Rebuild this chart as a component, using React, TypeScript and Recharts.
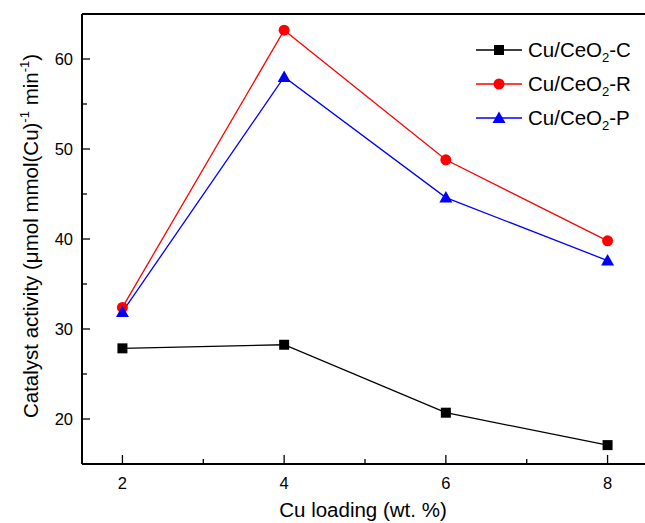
import React from 'react';
import { LineChart, Line, XAxis, YAxis, Legend, ReferenceLine } from 'recharts';

const loadings = [2, 4, 6, 8];
const activityC = [27.85, 28.25, 20.7, 17.1];
const activityR = [32.4, 63.2, 48.8, 39.8];
const activityP = [31.9, 58.0, 44.6, 37.6];
const seriesNames = ['Cu/CeO2-C', 'Cu/CeO2-R', 'Cu/CeO2-P'];
const xTicks = [2, 3, 4, 5, 6, 7, 8];
const yTicks = [20, 25, 30, 35, 40, 45, 50, 55, 60];

const data = loadings.map((x, i) => ({ x, c: activityC[i], r: activityR[i], p: activityP[i] }));

const FONT = '"Liberation Sans", Arial, sans-serif';
// tickSize + tickMargin, the gap recharts leaves between axis and tick position
const TICK_OFFSET = 8;

const XTick = (props: any) => {
  const { x, payload } = props;
  const y = props.y - TICK_OFFSET;
  const major = payload.value % 2 === 0;
  return (
    <g>
      <line x1={x} x2={x} y1={y} y2={y - (major ? 9 : 5)} stroke="#000" strokeWidth={1.3} />
      {major && (
        <text x={x} y={y + 25} textAnchor="middle" fontSize={16.5} fontFamily={FONT} fill="#000">
          {payload.value}
        </text>
      )}
    </g>
  );
};

const YTick = (props: any) => {
  const { y, payload } = props;
  const x = props.x + TICK_OFFSET;
  const major = payload.value % 10 === 0;
  return (
    <g>
      <line x1={x} x2={x + (major ? 8 : 5)} y1={y} y2={y} stroke="#000" strokeWidth={1.3} />
      {major && (
        <text x={x - 9} y={y + 6} textAnchor="end" fontSize={16.5} fontFamily={FONT} fill="#000">
          {payload.value}
        </text>
      )}
    </g>
  );
};

const SquareDot = (props: any) => {
  const { cx, cy } = props;
  return <rect x={cx - 5} y={cy - 5} width={10} height={10} fill="#000" />;
};

const CircleDot = (props: any) => {
  const { cx, cy } = props;
  return <circle cx={cx} cy={cy} r={5.5} fill="#ff0000" />;
};

const TriangleDot = (props: any) => {
  const { cx, cy } = props;
  return <path d={`M${cx},${cy - 6.5} L${cx + 6.5},${cy + 5} L${cx - 6.5},${cy + 5} Z`} fill="#0000ff" />;
};

const YLabel = () => (
  <text
    transform="translate(38,236) rotate(-90)"
    textAnchor="middle"
    fontSize={20.5}
    fontFamily={FONT}
    fill="#000"
  >
    Catalyst activity (μmol mmol(Cu)
    <tspan dy={-9} fontSize={13}>-1</tspan>
    <tspan dy={9}> min</tspan>
    <tspan dy={-9} fontSize={13}>-1</tspan>
    <tspan dy={9}>)</tspan>
  </text>
);

const XLabel = () => (
  <text x={363} y={517} textAnchor="middle" fontSize={20.5} fontFamily={FONT} fill="#000">
    Cu loading (wt. %)
  </text>
);

const markerFor = (name: string, color: string) => {
  const i = seriesNames.indexOf(name);
  if (i === 0) return <rect x={18} y={6} width={10} height={10} fill={color} />;
  if (i === 1) return <circle cx={23} cy={11} r={5.5} fill={color} />;
  return <path d="M23,4.5 L29.5,16 L16.5,16 Z" fill={color} />;
};

const LegendBox = (props: any) => {
  const items = [...(props.payload || [])].sort(
    (a: any, b: any) => seriesNames.indexOf(a.value) - seriesNames.indexOf(b.value)
  );
  return (
    <div style={{ fontFamily: FONT, fontSize: 20.5, color: '#000' }}>
      {items.map((entry: any) => {
        const name: string = entry.value;
        const [pre, post] = name.split('O2');
        return (
          <div key={name} style={{ display: 'flex', alignItems: 'center', height: 34 }}>
            <svg width={52} height={22} style={{ display: 'block' }}>
              <line x1={0} x2={46} y1={11} y2={11} stroke={entry.color} strokeWidth={1.3} />
              {markerFor(name, entry.color)}
            </svg>
            <span style={{ whiteSpace: 'nowrap', lineHeight: '22px' }}>
              {pre}O<sub style={{ fontSize: 13, verticalAlign: -5, lineHeight: 0 }}>2</sub>
              {post}
            </span>
          </div>
        );
      })}
    </div>
  );
};

export default function App() {
  return (
    <div style={{ position: 'absolute', left: 0, top: 0, width: 645, height: 523, overflow: 'hidden', background: '#fff' }}>
      <LineChart width={660} height={523} data={data} margin={{ top: 14, right: 12, bottom: 0, left: 0 }}>
        <XAxis
          dataKey="x"
          type="number"
          domain={[1.5, 8.5]}
          ticks={xTicks}
          interval={0}
          height={59}
          tickSize={6}
          tickMargin={2}
          tickLine={false}
          axisLine={{ stroke: '#000', strokeWidth: 2 }}
          tick={<XTick />}
          label={<XLabel />}
        />
        <YAxis
          type="number"
          domain={[15, 65]}
          ticks={yTicks}
          interval={0}
          width={82}
          tickSize={6}
          tickMargin={2}
          tickLine={false}
          axisLine={{ stroke: '#000', strokeWidth: 2 }}
          tick={<YTick />}
          label={<YLabel />}
        />
        <ReferenceLine y={65} stroke="#000" strokeWidth={2} />
        <Legend
          layout="vertical"
          verticalAlign="middle"
          align="center"
          wrapperStyle={{ top: 33, left: 476, width: 180 }}
          content={<LegendBox />}
        />
        <Line
          dataKey="c"
          name={seriesNames[0]}
          stroke="#000000"
          strokeWidth={1.3}
          dot={<SquareDot />}
          activeDot={false}
          isAnimationActive={false}
        />
        <Line
          dataKey="r"
          name={seriesNames[1]}
          stroke="#ff0000"
          strokeWidth={1.3}
          dot={<CircleDot />}
          activeDot={false}
          isAnimationActive={false}
        />
        <Line
          dataKey="p"
          name={seriesNames[2]}
          stroke="#0000ff"
          strokeWidth={1.3}
          dot={<TriangleDot />}
          activeDot={false}
          isAnimationActive={false}
        />
      </LineChart>
    </div>
  );
}
